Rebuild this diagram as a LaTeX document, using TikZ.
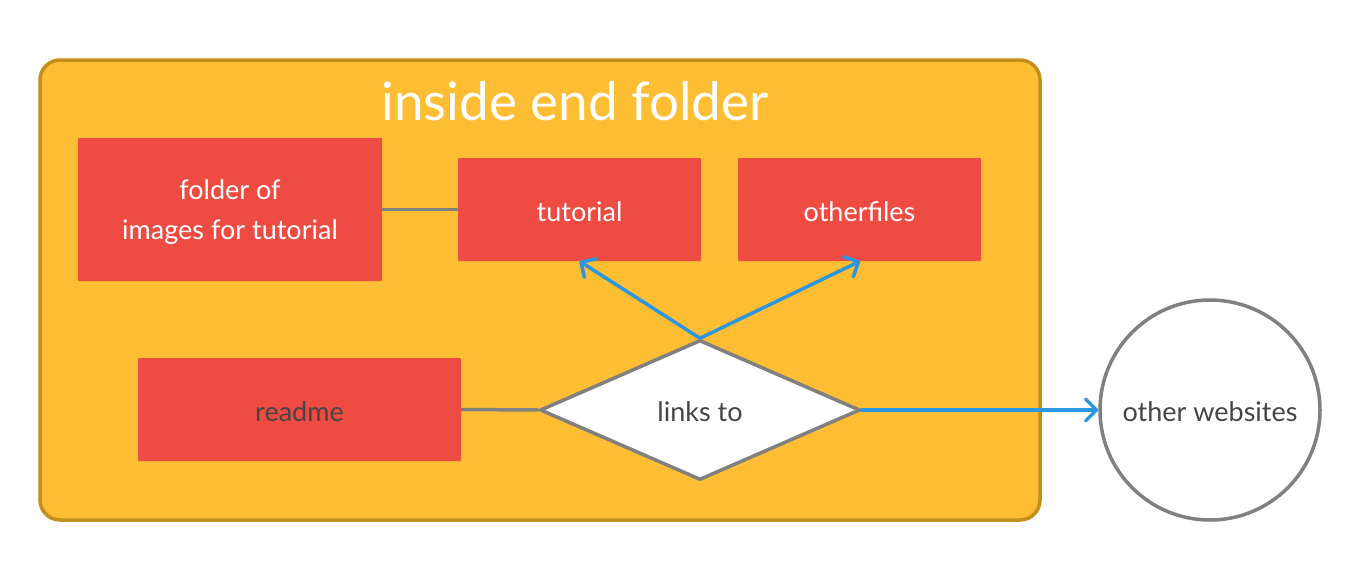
\documentclass[tikz,border=0pt]{standalone}
\usepackage{fontspec}
\setmainfont{Lato}
\usetikzlibrary{arrows.meta,shapes.geometric}
\definecolor{contfill}{HTML}{FDBE33}
\definecolor{contdraw}{HTML}{C48E1D}
\definecolor{boxred}{HTML}{EE4B43}
\definecolor{linegray}{HTML}{808080}
\definecolor{textgray}{HTML}{454545}
\definecolor{arrowblue}{HTML}{2D96E0}
\tikzset{
  redbox/.style={fill=boxred, rounded corners=1pt, inner sep=0pt, text=white,
    font=\fontsize{27}{40}\selectfont, align=center},
  plainlink/.style={draw=linegray, line width=3.5pt},
  bluelink/.style={draw=arrowblue, line width=3.5pt, line cap=round,
    -{Straight Barb[length=11pt,width=22pt,line cap=round,line join=round]}},
}
\begin{document}
\begin{tikzpicture}[x=1pt,y=-1pt]
\useasboundingbox (0,0) rectangle (1360,560);
% container
\node[draw=contdraw, fill=contfill, line width=3.5pt, rounded corners=20pt,
  minimum width=1000pt, minimum height=460pt, inner sep=0pt] (cont) at (540,290) {};
\node[text=white, font=\fontsize{53}{60}\selectfont] (title) at (575,101) {inside end folder};
% boxes
\node[redbox, minimum width=304pt, minimum height=143pt] (folder) at (230,209.5) {};
\node[text=white, font=\fontsize{27}{40}\selectfont, align=center] (foldertext) at (230,212) {folder of\\images for tutorial};
\node[redbox, minimum width=243pt, minimum height=103pt] (tutorial) at (579.5,209.5) {};
\node[text=white, font=\fontsize{27}{40}\selectfont] (tuttext) at (579.5,212) {tutorial};
\node[redbox, minimum width=243pt, minimum height=103pt] (other) at (859.5,209.5) {};
\node[text=white, font=\fontsize{27}{40}\selectfont] (othertext) at (859.5,212) {otherfiles};
\node[redbox, minimum width=323pt, minimum height=103pt] (readme) at (299.5,409.5) {};
\node[text=textgray, font=\fontsize{27}{40}\selectfont] (readmetext) at (299.5,412) {readme};
% diamond
\node[diamond, draw=linegray, fill=white, line width=3.5pt, minimum width=320pt, minimum height=140pt,
  inner sep=0pt] (links) at (700,410) {};
\node[text=textgray, font=\fontsize{27}{40}\selectfont] (linkstext) at (700,412) {links to};
% circle
\node[circle, draw=linegray, fill=white, line width=3.5pt, minimum size=220pt, inner sep=0pt] (web) at (1210,410) {};
\node[text=textgray, font=\fontsize{27}{40}\selectfont] (webtext) at (1210,412) {other websites};
% connectors
\draw[plainlink] (folder.east) -- (tutorial.west);
\draw[plainlink] (readme.east) -- (links.west);
\coordinate (tb) at (tutorial.south);
\draw[bluelink] (links.north) -- (tb);
\coordinate (ob) at ([xshift=0.5pt]other.south);
\draw[bluelink] (links.north) -- (ob);
\draw[bluelink] (links.east) -- (web.west);
\end{tikzpicture}
\end{document}
